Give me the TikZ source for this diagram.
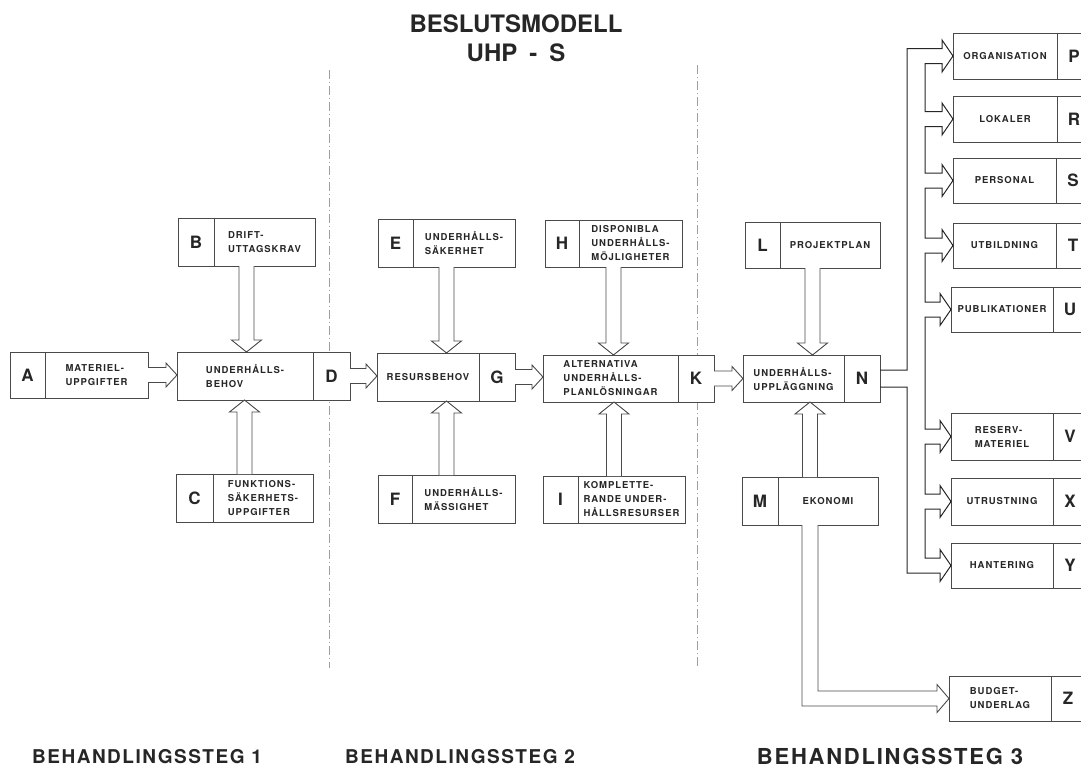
\documentclass[tikz,border=0pt]{standalone}
\usepackage{fontspec}
\setmainfont{TeX Gyre Heros}
\newfontfamily\labfont[LetterSpace=10]{TeX Gyre Heros}
\newfontfamily\stepfont[LetterSpace=8]{TeX Gyre Heros}
\usetikzlibrary{calc}
\definecolor{ink}{HTML}{262626}
\definecolor{frame}{HTML}{4A4A4A}
\tikzset{
 box/.style={draw=frame, line width=0.9pt, fill=white, inner sep=0pt, outer sep=0pt, rectangle},
 divline/.style={draw=frame, line width=0.7pt},
 lettertxt/.style={font=\fontsize{17}{20}\selectfont\bfseries, text=ink, inner sep=0pt},
 boxtxt/.style={font=\labfont\fontsize{9.5}{14}\selectfont\bfseries, text=ink, align=left, inner sep=0pt},
 hollow/.style={draw=frame, line width=0.9pt, fill=white, line join=miter},
 wire/.style={draw=ink, line width=1pt},
 phase/.style={draw=gray!75, line width=0.6pt, dash pattern=on 9pt off 3pt on 1pt off 3pt},
 titletxt/.style={font=\fontsize{24}{29}\selectfont\bfseries, text=ink, align=center},
 steptxt/.style={text=ink, anchor=base, inner sep=1pt},
}
% box with letter cell on the left
\newcommand\boxL[8]{%
 \pgfmathsetmacro\bw{#4-#2}\pgfmathsetmacro\bh{#5-#3}%
 \node[box, minimum width=\bw pt, minimum height=\bh pt] (#1) at ({(#2+#4)/2},{(#3+#5)/2}) {};
 \draw[divline] (#6,#3) -- (#6,#5);
 \node[lettertxt] at ({(#2+#6)/2},{(#3+#5)/2}) {#7};
 \node[boxtxt] at ({(#6+#4)/2},{(#3+#5)/2}) {#8};}
% box with letter cell on the right
\newcommand\boxR[8]{%
 \pgfmathsetmacro\bw{#4-#2}\pgfmathsetmacro\bh{#5-#3}%
 \node[box, minimum width=\bw pt, minimum height=\bh pt] (#1) at ({(#2+#4)/2},{(#3+#5)/2}) {};
 \draw[divline] (#6,#3) -- (#6,#5);
 \node[lettertxt] at ({(#6+#4)/2},{(#3+#5)/2}) {#7};
 \node[boxtxt] at ({(#2+#6)/2},{(#3+#5)/2}) {#8};}
% hollow arrows
\newcommand\harr[2]{\draw[hollow] let \p1=(#1.east), \p2=(#2.west) in
 (\x1,\y1+7.5pt) -- (\x2-11pt,\y1+7.5pt) -- (\x2-11pt,\y1+12pt) -- (\x2,\y1) -- (\x2-11pt,\y1-12pt) -- (\x2-11pt,\y1-7.5pt) -- (\x1,\y1-7.5pt);}
\newcommand\darr[2]{\draw[hollow] let \p1=(#1.south), \p2=(#2.north) in
 (\x1-7.5pt,\y1) -- (\x1-7.5pt,\y2+12pt) -- (\x1-15pt,\y2+12pt) -- (\x1,\y2) -- (\x1+15pt,\y2+12pt) -- (\x1+7.5pt,\y2+12pt) -- (\x1+7.5pt,\y1);}
\newcommand\uarr[2]{\draw[hollow] let \p1=(#1.north), \p2=(#2.south) in
 (\x1-7.5pt,\y1) -- (\x1-7.5pt,\y2-12pt) -- (\x1-15pt,\y2-12pt) -- (\x1,\y2) -- (\x1+15pt,\y2-12pt) -- (\x1+7.5pt,\y2-12pt) -- (\x1+7.5pt,\y1);}
% bus pieces
\newcommand\hd[1]{-- ($(#1.west)+(-11,-7.5)$) -- ($(#1.west)+(-11,-16)$) -- (#1.west) -- ($(#1.west)+(-11,16)$) -- ($(#1.west)+(-11,7.5)$)}
\newcommand\nx[1]{-| ($(busI |- #1.west)+(0,-7.5)$)}

\begin{document}
\begin{tikzpicture}[x=1pt,y=-1pt]
\useasboundingbox (0,0) rectangle (1081,769);

% title
\node[titletxt] (title) at (516,38.5) {BESLUTSMODELL\\UHP\enspace-\enspace S};

% phase separators
\draw[phase] (329,70) -- (329,668);
\draw[phase] (697,65) -- (697,668);

% step 1
\boxL{A}{10}{352}{148}{398}{45}{A}{MATERIEL-\\UPPGIFTER}
\boxL{B}{178}{218}{315}{266}{214}{B}{DRIFT-\\UTTAGSKRAV}
\boxL{C}{176}{474}{313}{522}{213}{C}{FUNKTIONS-\\SÄKERHETS-\\UPPGIFTER}
\boxR{D}{177}{352}{350}{400}{313}{D}{UNDERHÅLLS-\\BEHOV}
% step 2
\boxL{E}{378}{219}{515}{267}{413}{E}{UNDERHÅLLS-\\SÄKERHET}
\boxL{F}{378}{475}{515}{523}{412}{F}{UNDERHÅLLS-\\MÄSSIGHET}
\boxR{G}{377}{353}{515}{401}{479}{G}{RESURSBEHOV}
\boxL{H}{545}{220}{682}{267}{579}{H}{DISPONIBLA\\UNDERHÅLLS-\\MÖJLIGHETER}
\boxL{I}{543}{476}{685}{523}{578}{I}{KOMPLETTE-\\RANDE UNDER-\\HÅLLSRESURSER}
\boxR{K}{543}{355}{714}{402}{678}{K}{ALTERNATIVA\\UNDERHÅLLS-\\PLANLÖSNINGAR}
% step 3
\boxL{L}{745}{222}{880}{268}{780}{L}{PROJEKTPLAN}
\boxL{M}{742}{477}{878}{525}{778}{M}{EKONOMI}
\boxR{N}{743}{355}{880}{402}{844}{N}{UNDERHÅLLS-\\UPPLÄGGNING}
\boxR{P}{953}{33}{1091}{79}{1057}{P}{ORGANISATION}
\boxR{R}{953}{96}{1091}{142}{1057}{R}{LOKALER}
\boxR{S}{953}{158}{1090}{203}{1056}{S}{PERSONAL}
\boxR{T}{953}{223}{1090}{268}{1056}{T}{UTBILDNING}
\boxR{U}{951}{287}{1087}{332}{1053}{U}{PUBLIKATIONER}
\boxR{V}{951}{413}{1087}{460}{1053}{V}{RESERV-\\MATERIEL}
\boxR{X}{951}{478}{1087}{525}{1053}{X}{UTRUSTNING}
\boxR{Y}{951}{543}{1087}{588}{1053}{Y}{HANTERING}
\boxR{Z}{949}{676}{1085}{721}{1051}{Z}{BUDGET-\\UNDERLAG}

% main flow
\harr{A}{D} \harr{D}{G} \harr{G}{K} \harr{K}{N}
\darr{B}{D} \darr{E}{G} \darr{H}{K} \darr{L}{N}
\uarr{C}{D} \uarr{F}{G} \uarr{I}{K} \uarr{M}{N}

% M to Z
\draw[hollow] let \p1=(M.south), \p2=(Z.west) in
 (\x1-8pt,\y1) -- (\x1-8pt,\y2-7.5pt) -- (\x2-12pt,\y2-7.5pt) -- (\x2-12pt,\y2-14pt) -- (\x2,\y2)
 -- (\x2-12pt,\y2+14pt) -- (\x2-12pt,\y2+7.5pt) -- (\x1+8pt,\y2+7.5pt) -- (\x1+8pt,\y1);

% distribution bus from N
\coordinate (busO) at (907,0);
\coordinate (busI) at (925,0);
\draw[wire] ($(N.east)+(0,-8.5)$) -| ($(busO |- P.west)+(0,-7.5)$)
 \hd{P} \nx{R} \hd{R} \nx{S} \hd{S} \nx{T} \hd{T} \nx{U} \hd{U}
 \nx{V} \hd{V} \nx{X} \hd{X} \nx{Y} \hd{Y}
 -| ($(busO |- N.east)+(0,8.5)$) -- ($(N.east)+(0,8.5)$);

% phase labels
\node[steptxt, font=\stepfont\fontsize{19}{22}\selectfont\bfseries] (s1) at (147,763) {BEHANDLINGSSTEG 1};
\node[steptxt, font=\stepfont\fontsize{19}{22}\selectfont\bfseries] (s2) at (460,763) {BEHANDLINGSSTEG 2};
\node[steptxt, font=\stepfont\fontsize{22}{25}\selectfont\bfseries] (s3) at (890,764) {BEHANDLINGSSTEG 3};
\end{tikzpicture}
\end{document}
